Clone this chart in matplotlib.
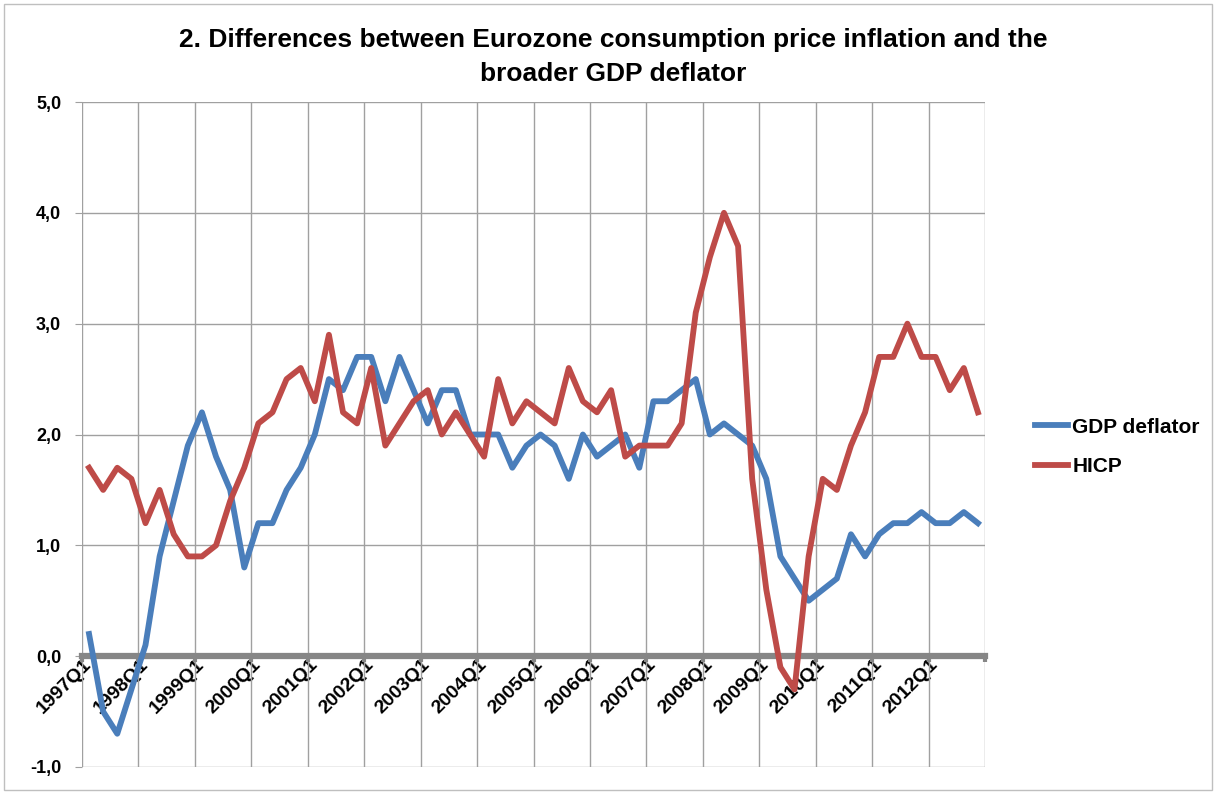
import matplotlib
matplotlib.use("Agg")
import matplotlib.pyplot as plt
from matplotlib.ticker import FixedLocator, FuncFormatter
from matplotlib.patches import Rectangle

plt.rcParams['font.family'] = ['Liberation Sans', 'DejaVu Sans']

years = list(range(1997, 2013))
quarters = [f"{y}Q{q}" for y in years for q in range(1, 5)]

gdp_deflator = [0.2, -0.5, -0.7, -0.3, 0.1, 0.9, 1.4, 1.9, 2.2, 1.8,
                1.5, 0.8, 1.2, 1.2, 1.5, 1.7, 2.0, 2.5, 2.4, 2.7,
                2.7, 2.3, 2.7, 2.4, 2.1, 2.4, 2.4, 2.0, 2.0, 2.0,
                1.7, 1.9, 2.0, 1.9, 1.6, 2.0, 1.8, 1.9, 2.0, 1.7,
                2.3, 2.3, 2.4, 2.5, 2.0, 2.1, 2.0, 1.9, 1.6, 0.9,
                0.7, 0.5, 0.6, 0.7, 1.1, 0.9, 1.1, 1.2, 1.2, 1.3,
                1.2, 1.2, 1.3, 1.2]
hicp = [1.7, 1.5, 1.7, 1.6, 1.2, 1.5, 1.1, 0.9, 0.9, 1.0,
        1.4, 1.7, 2.1, 2.2, 2.5, 2.6, 2.3, 2.9, 2.2, 2.1,
        2.6, 1.9, 2.1, 2.3, 2.4, 2.0, 2.2, 2.0, 1.8, 2.5,
        2.1, 2.3, 2.2, 2.1, 2.6, 2.3, 2.2, 2.4, 1.8, 1.9,
        1.9, 1.9, 2.1, 3.1, 3.6, 4.0, 3.7, 1.6, 0.6, -0.1,
        -0.3, 0.9, 1.6, 1.5, 1.9, 2.2, 2.7, 2.7, 3.0, 2.7,
        2.7, 2.4, 2.6, 2.2]

blue = '#4A7EBB'
red = '#BE4B48'
grid_col = '#a0a0a0'

fig = plt.figure(figsize=(12.16, 7.94), dpi=100)
ax = fig.add_axes([82 / 1216, 1 - 767 / 794, (985 - 82) / 1216, (767 - 102) / 794])

# spine position first: moving it resets the tick objects
ax.spines['bottom'].set_position(('data', 0))
ax.spines['bottom'].set_color('#868686')
ax.spines['bottom'].set_linewidth(4.5)
ax.spines['bottom'].set_zorder(2)
for s in ['top', 'right', 'left']:
    ax.spines[s].set_visible(False)

x = list(range(len(quarters)))
ax.plot(x, gdp_deflator, color=blue, lw=4.2, label='GDP deflator', zorder=3)
ax.plot(x, hicp, color=red, lw=4.2, label='HICP', zorder=3)

ax.set_xlim(-0.5, len(quarters) - 0.5)
ax.set_ylim(-1, 5)

# year boundaries as gridlines, labels on every Q1
ax.set_xticks([i - 0.5 for i in range(0, len(quarters) + 1, 4)], minor=True)
ax.set_xticks(list(range(0, len(quarters), 4)), labels=quarters[::4])
ax.tick_params(axis='x', which='major', length=0, pad=4)
ax.tick_params(axis='x', which='minor', length=4, width=3, color='#868686', direction='out')
ax.grid(axis='x', which='minor', color=grid_col, lw=1)

ax.yaxis.set_major_locator(FixedLocator([-1, 0, 1, 2, 3, 4, 5]))
ax.yaxis.set_major_formatter(FuncFormatter(lambda v, p: f"{v:.1f}".replace('.', ',')))
ax.tick_params(axis='y', length=5, color=grid_col, pad=10)
ax.grid(axis='y', which='major', color=grid_col, lw=1)
ax.set_axisbelow(True)

plt.setp(ax.get_xticklabels(), rotation=45, ha='right', va='center', rotation_mode='anchor',
         fontsize=14, fontweight='bold')
plt.setp(ax.get_yticklabels(), fontsize=13, fontweight='bold')

fig.text(613 / 1216, 1 - 57 / 794,
         "2. Differences between Eurozone consumption price inflation and the\nbroader GDP deflator",
         ha='center', va='center', fontsize=19, fontweight='bold', linespacing=1.5)

fig.legend(loc='center left', bbox_to_anchor=(1016 / 1216, 1 - 447 / 794), frameon=False,
           prop={'size': 15, 'weight': 'bold'},
           handlelength=1.6, handletextpad=0.2, labelspacing=1.0)

fig.patches.append(Rectangle((4 / 1216, 4 / 794), 1208 / 1216, 786 / 794, transform=fig.transFigure,
                             fill=False, edgecolor='#bfbfbf', lw=1))

fig.savefig('out.png', dpi=100)
